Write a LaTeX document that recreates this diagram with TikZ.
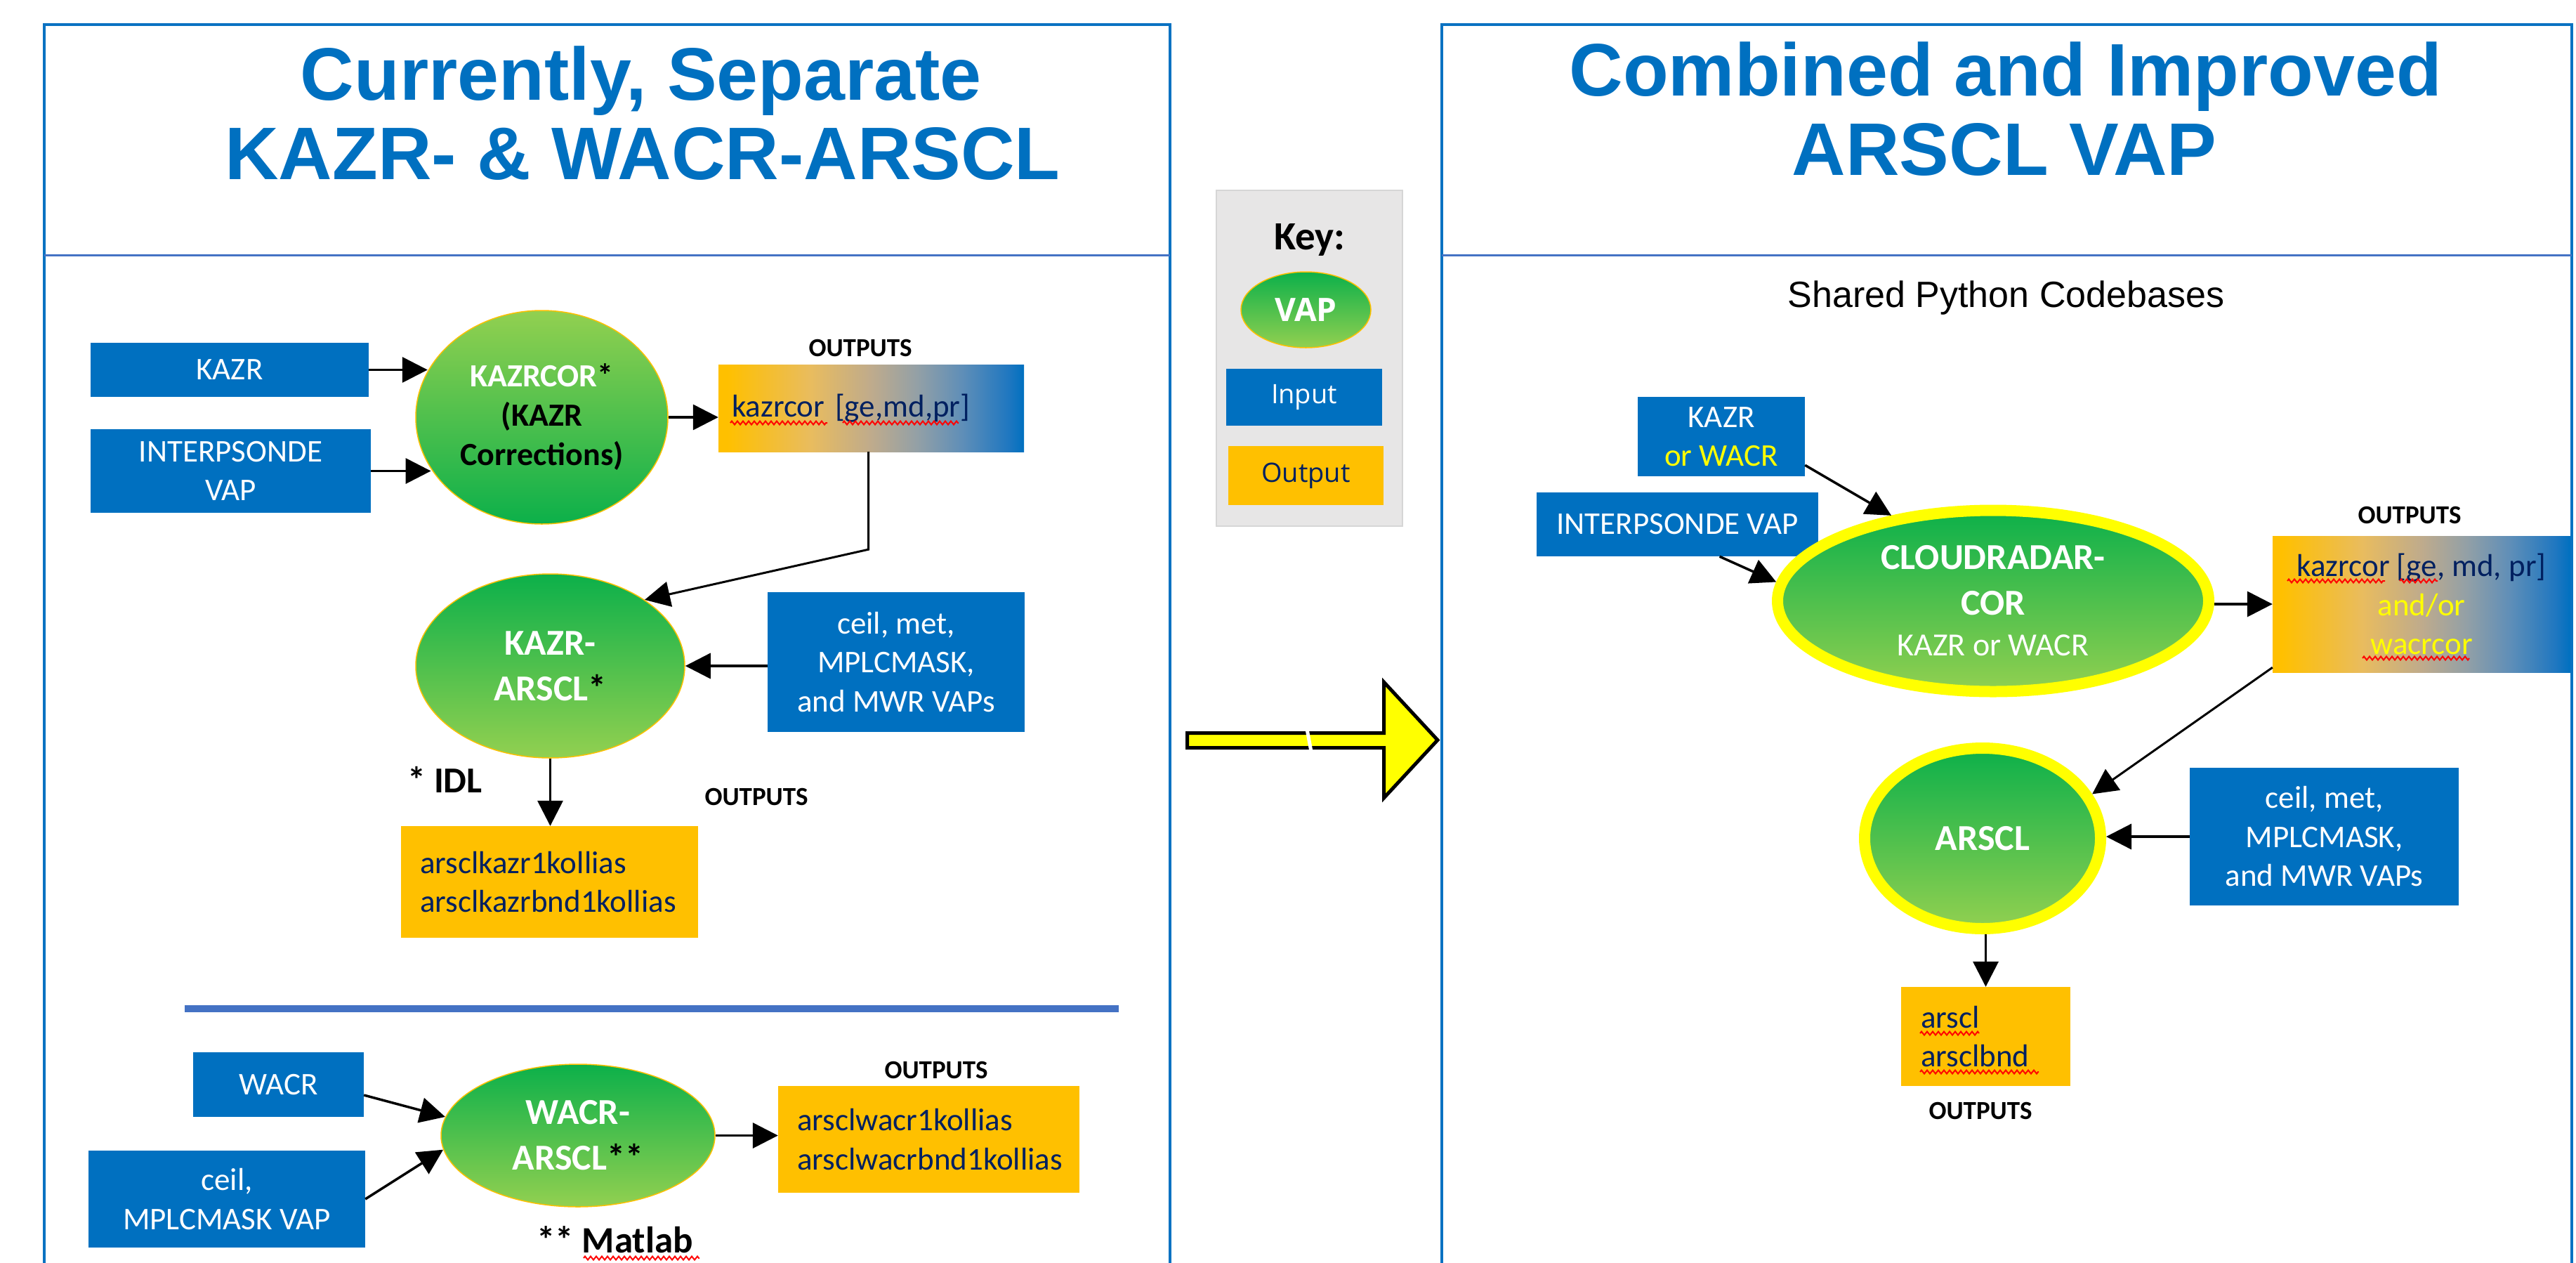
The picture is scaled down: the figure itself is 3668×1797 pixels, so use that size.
\documentclass[tikz,border=0pt]{standalone}
\usepackage{fontspec}
\setmainfont{Carlito}
\newfontfamily\arialfont{Liberation Sans}
\newfontfamily\keyfont{Open Sans}
\usetikzlibrary{arrows.meta,shapes.geometric,decorations.pathmorphing,calc}

\definecolor{boxblue}{HTML}{0070C0}
\definecolor{outorange}{HTML}{FFC000}
\definecolor{navytext}{HTML}{002060}
\definecolor{vapdark}{HTML}{0CB04A}
\definecolor{vaplight}{HTML}{92D050}
\definecolor{titleblue}{HTML}{0070C0}
\definecolor{panelblue}{HTML}{0A72C2}
\definecolor{seplblue}{HTML}{4472C4}
\definecolor{keygray}{HTML}{E7E6E6}
\definecolor{keyborder}{HTML}{D6D6D6}
\definecolor{brightyellow}{HTML}{FFFF00}
\definecolor{og0}{HTML}{FFC000}
\definecolor{og1}{HTML}{E9BC5E}
\definecolor{og2}{HTML}{BFAB8C}
\definecolor{og3}{HTML}{93A0A6}
\definecolor{og4}{HTML}{5E8EB8}
\definecolor{og5}{HTML}{1F77C0}
\definecolor{og6}{HTML}{0070C0}

\pgfdeclarehorizontalshading{outgrad}{100bp}{color(0bp)=(og0); color(26.5bp)=(og0); color(40bp)=(og1); color(50bp)=(og2); color(57.5bp)=(og3); color(65bp)=(og4); color(72.5bp)=(og5); color(75bp)=(og6); color(100bp)=(og6)}

\tikzset{
  inbox/.style={fill=boxblue, text=white, font=\fontsize{45}{55.5}\selectfont, align=center, inner sep=0pt},
  outbox/.style={fill=outorange, text=navytext, font=\fontsize{45}{55.5}\selectfont, inner ysep=0pt},
  outgradbox/.style={outbox, shading=outgrad},
  vap/.style={ellipse, draw=outorange, line width=1.5pt, top color=vapdark, bottom color=vaplight, text=white, font=\bfseries\fontsize{52}{65}\selectfont, align=center, inner sep=0pt},
  vapring/.style={vap, draw=brightyellow, line width=16pt},
  arr/.style={line width=3.5pt, -{Triangle[length=36pt,width=36pt]}},
  outlbl/.style={font=\bfseries\fontsize{37}{44}\selectfont, inner sep=0pt},
  notelbl/.style={font=\bfseries\fontsize{52}{62}\selectfont, inner sep=0pt},
  titletext/.style={font=\arialfont\bfseries\fontsize{106}{113}\selectfont, text=titleblue, inner sep=0pt, anchor=base},
  panel/.style={draw=panelblue, line width=4pt},
  headsep/.style={draw=seplblue, line width=3pt},
  spell/.style={draw=red, line width=2pt, decorate, decoration={zigzag, segment length=8pt, amplitude=2.5pt}},
}

\begin{document}
\begin{tikzpicture}[x=1pt,y=-1pt]
\useasboundingbox (0,0) rectangle (3668,1797);
\fill[white] (0,0) rectangle (3668,1797);

% panels
\draw[panel] (63,1810) -- (63,35) -- (1666,35) -- (1666,1810);
\draw[panel] (2053,1810) -- (2053,35) -- (3662,35) -- (3662,1810);
\draw[headsep] (63,363) -- (1666,363);
\draw[headsep] (2053,363) -- (3662,363);

% titles
\node[titletext] (titleL1) at (913,142) {Currently, Separate};
\node[titletext] (titleL2) at (915,255) {KAZR- \& WACR-ARSCL};
\node[titletext] (titleR1) at (2856,136) {Combined and Improved};
\node[titletext] (titleR2) at (2854,249) {ARSCL VAP};
\node[font=\arialfont\fontsize{52}{60}\selectfont, anchor=base, inner sep=0pt] (shared) at (2856.5,437) {Shared Python Codebases};

% ---------- left panel, KAZR ----------
\node[inbox, minimum width=396pt, minimum height=77pt] (kazrL) at (327,526.5) {KAZR};
\node[inbox, minimum width=399pt, minimum height=119pt] (interpL) at (328.5,670.5) {INTERPSONDE\\VAP};
\node[vap, font=\bfseries\fontsize{46}{56}\selectfont, top color=vaplight, bottom color=vapdark,
      minimum width=359pt, minimum height=304pt] (kcor) at (771.5,594)
      {KAZRCOR\textcolor{black}{*}\\\textcolor{black}{(KAZR}\\\textcolor{black}{Corrections)}};
\node[outlbl] (outlblK) at (1225,495) {OUTPUTS};
\node[outgradbox, minimum width=435pt, minimum height=124pt, text width=397pt, inner xsep=19pt, align=left] (outK) at (1240.5,581) {kazrcor [ge,md,pr]};
\node[vap, minimum width=383pt, minimum height=262pt] (kaa) at (783.5,948) {KAZR-\\ARSCL\textcolor{black}{*}};
\node[inbox, minimum width=366pt, minimum height=199pt] (ceilL) at (1276,942.5) {ceil, met,\\MPLCMASK,\\and MWR VAPs};
\node[notelbl] (idl) at (633.5,1110) {* IDL};
\node[outlbl] (outlblKA) at (1077,1134) {OUTPUTS};
\node[outbox, minimum width=423pt, minimum height=159pt, text width=369pt, inner xsep=27pt, align=left] (outKA) at (782.5,1255.5) {arsclkazr1kollias\\arsclkazrbnd1kollias};

% separator
\draw[draw=seplblue, line width=10pt] (263,1436) -- (1593,1436);

% ---------- left panel, WACR ----------
\node[inbox, minimum width=243pt, minimum height=92pt] (wacrL) at (396.5,1544) {WACR};
\node[inbox, minimum width=394pt, minimum height=138pt] (ceil2L) at (323,1707) {ceil,\\MPLCMASK VAP};
\node[vap, minimum width=390pt, minimum height=203pt] (wa) at (823,1616.5) {WACR-\\ARSCL\textcolor{black}{**}};
\node[outlbl] (outlblW) at (1333,1523) {OUTPUTS};
\node[outbox, minimum width=429pt, minimum height=152pt, text width=375pt, inner xsep=27pt, align=left] (outW) at (1322.5,1622) {arsclwacr1kollias\\arsclwacrbnd1kollias};
\node[notelbl, font=\bfseries\fontsize{53}{62}\selectfont] (matlab) at (875.5,1765) {** Matlab};

% ---------- key ----------
\node[fill=keygray, draw=keyborder, line width=1.5pt, minimum width=265pt, minimum height=478pt, inner sep=0pt] (key) at (1864.5,510) {};
\node[font=\bfseries\fontsize{57}{68}\selectfont, inner sep=0pt] (keyt) at (1865,341.5) {Key:};
\node[vap, font=\keyfont\bfseries\fontsize{46}{55}\selectfont, minimum width=185pt, minimum height=108pt] (keyvap) at (1859.5,441) {VAP};
\node[inbox, font=\keyfont\fontsize{38}{46}\selectfont, minimum width=222pt, minimum height=81pt] (keyin) at (1857,565) {Input};
\node[outbox, font=\keyfont\fontsize{38}{46}\selectfont, minimum width=221pt, minimum height=84pt, inner sep=0pt] (keyout) at (1859.5,677) {Output};

% big arrow
\draw[fill=brightyellow, draw=black, line width=5pt, line join=miter]
  (1690.5,1043.5) -- (1970.5,1043.5) -- (1970.5,971) -- (2047,1053.5) -- (1970.5,1136) -- (1970.5,1064.5) -- (1690.5,1064.5) -- cycle;
\draw[white, line width=5pt] (1861,1038) -- (1867,1070);

% ---------- right panel ----------
\node[inbox, minimum width=238pt, minimum height=113pt] (kwR) at (2451,621.5) {KAZR\\\textcolor{brightyellow}{or WACR}};
\node[inbox, minimum width=401pt, minimum height=91pt] (interpR) at (2388.5,746.5) {INTERPSONDE VAP};
\node[vapring, minimum width=614pt, minimum height=258pt] (cr) at (2838,855.5)
  {CLOUDRADAR-\\COR\\[-7pt]{\mdseries\fontsize{46}{57}\selectfont KAZR or WACR}};
\node[outlbl] (outlblR) at (3431,733) {OUTPUTS};
\node[outgradbox, minimum width=424pt, minimum height=194pt, align=center, inner xsep=0pt] (outR) at (3448,860)
  {kazrcor [ge, md, pr]\\\textcolor{brightyellow}{and/or}\\\textcolor{brightyellow}{wacrcor}};
\node[vapring, minimum width=336pt, minimum height=257pt] (arscl) at (2823,1193.5) {ARSCL};
\node[inbox, minimum width=383pt, minimum height=196pt] (ceilR) at (3309.5,1191) {ceil, met,\\MPLCMASK,\\and MWR VAPs};
\node[outbox, minimum width=241pt, minimum height=141pt, text width=185pt, inner xsep=28pt, align=left] (outA) at (2827.5,1475.5) {arscl\\arsclbnd};
\node[outlbl] (outlblA) at (2820,1581) {OUTPUTS};

% ---------- connectors ----------
\draw[arr] (kazrL.east) -- (kazrL.east -| kcor.158);
\draw[arr] (interpL.east) -- (interpL.east -| kcor.205);
\draw[arr] (kcor.east) -- (kcor.east -| outK.west);
\draw[arr, line width=3pt] ($(outK.south)+(-4,0)$) -- ($(outK.south)+(-4,139)$) -- (kaa.35);
\draw[arr] (ceilL.west |- kaa.east) -- (kaa.east);
\draw[arr] (kaa.south) -- (kaa.south |- outKA.north);
\draw[arr] ($(wacrL.east)+(0,15)$) -- (wa.172);
\draw[arr] (ceil2L.east) -- (wa.186);
\draw[arr] (wa.east) -- (wa.east -| outW.west);

\draw[arr] ($(kwR.south east)+(0,-16)$) -- (cr.140);
\draw[arr] ($(interpR.south)+(60,0)$) -- (cr.175);
\draw[arr] (outR.west -| cr.east) -- (outR.west);
\draw[arr, line width=3pt] ($(outR.south west)+(0,-7)$) -- (arscl.22);
\draw[arr] (ceilR.west) -- (ceilR.west -| arscl.east);
\draw[arr] (outA.north |- arscl.south) -- (outA.north);

% spell-check underlines
\draw[spell] (1040,602) -- (1178,602);
\draw[spell] (1200,602) -- (1365,602);
\draw[spell] (3257,827) -- (3396,827);
\draw[spell] (3417,827) -- (3471,827);
\draw[spell] (3364,937) -- (3516,937);
\draw[spell] (2734,1471) -- (2818,1471);
\draw[spell] (2734,1526) -- (2903,1526);
\draw[spell] (831,1791) -- (996,1791);
\end{tikzpicture}
\end{document}
